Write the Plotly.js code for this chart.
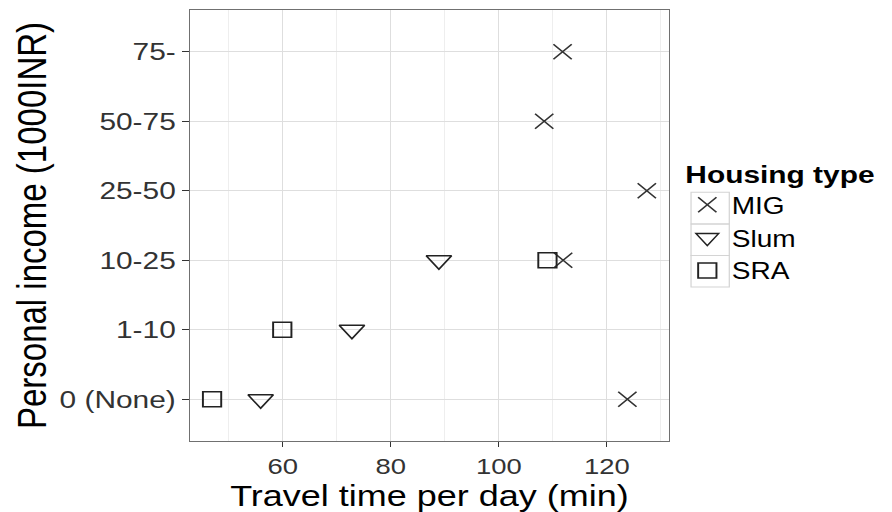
<!DOCTYPE html>
<html>
<head>
<meta charset="utf-8">
<script src="https://cdn.plot.ly/plotly-3.0.1.min.js"></script>
<style>
  html, body { margin: 0; padding: 0; background: #fff; overflow: hidden; }
  #wrap { width: 892px; height: 512px; overflow: hidden; }
  #chart { width: 731px; height: 512px; transform: scaleX(1.22); transform-origin: 0 0; }
</style>
</head>
<body>
<div id="wrap"><div id="chart"></div></div>
<script>
// Income categories (y axis, bottom to top)
const incomeCategories = ["0 (None)", "1-10", "10-25", "25-50", "50-75", "75-"];

// MIG
const migIncome = ["0 (None)", "10-25", "25-50", "50-75", "75-"];
const migTravel = [123.8, 111.9, 127.4, 108.4, 111.8];

// Slum
const slumIncome = ["0 (None)", "1-10", "10-25"];
const slumTravel = [55.9, 72.8, 88.9];

// SRA
const sraIncome = ["0 (None)", "1-10", "10-25"];
const sraTravel = [46.9, 59.9, 109.0];

const xTicks = [60, 80, 100, 120];
const xMinorTicks = [50, 70, 90, 110, 130];

const FONT = "Liberation Sans, Arial, sans-serif";
const ink = "#222222";

const traces = [
  {
    name: "MIG", legendgroup: "a", x: migTravel, y: migIncome, type: "scatter", mode: "markers",
    marker: { symbol: "x-thin-open", size: 15, color: "#333333", line: { color: "#333333", width: 1.4 } }
  },
  {
    name: "Slum", legendgroup: "b", x: slumTravel, y: slumIncome, type: "scatter", mode: "markers",
    marker: { symbol: "triangle-down-open", size: 18, color: ink, line: { color: ink, width: 1.4 } }
  },
  {
    name: "SRA", legendgroup: "c", x: sraTravel, y: sraIncome, type: "scatter", mode: "markers",
    marker: { symbol: "square-open", size: 15, color: ink, line: { color: ink, width: 1.6 } }
  }
];

const allX = migTravel.concat(slumTravel, sraTravel);
const xmin = Math.min(...allX), xmax = Math.max(...allX);
const pad = (xmax - xmin) * 0.05;

// light grey frames around the legend keys (ggplot legend.key style)
const keyTop = 0.577, keyStep = 0.0733;
const keyFrames = [0, 1, 2].map(i => ({
  type: "rect", xref: "paper", yref: "paper", layer: "above",
  x0: 1.047, x1: 1.127,
  y0: keyTop - i * keyStep, y1: keyTop - (i + 1) * keyStep,
  line: { color: "#d4d4d4", width: 1 }, fillcolor: "rgba(0,0,0,0)"
}));

const layout = {
  width: 731, height: 512,
  margin: { l: 156, r: 183, t: 10, b: 71, pad: 0 },
  paper_bgcolor: "#ffffff", plot_bgcolor: "#ffffff",
  font: { family: FONT, color: "#333333" },
  showlegend: true,
  shapes: keyFrames,
  xaxis: {
    range: [xmin - pad, xmax + pad],
    tickvals: xTicks,
    ticks: "outside", ticklen: 5, tickcolor: "#333333", tickwidth: 1,
    tickfont: { family: FONT, size: 22.5, color: "#333333" },
    showgrid: true, gridcolor: "#dedede", gridwidth: 1,
    minor: { tickmode: "array", tickvals: xMinorTicks, showgrid: true, gridcolor: "#eeeeee", gridwidth: 1, ticks: "" },
    zeroline: false,
    showline: true, linecolor: "#707070", linewidth: 1, mirror: true,
    title: { text: "Travel time per day (min)", font: { family: FONT, size: 29.5, color: "#000000" }, standoff: 8 }
  },
  yaxis: {
    type: "category",
    categoryorder: "array", categoryarray: incomeCategories,
    range: [-0.6, incomeCategories.length - 0.4],
    ticks: "outside", ticklen: 6, tickcolor: "#333333", tickwidth: 1,
    tickfont: { family: FONT, size: 24.5, color: "#333333" },
    showgrid: true, gridcolor: "#dedede", gridwidth: 1,
    zeroline: false,
    showline: true, linecolor: "#707070", linewidth: 1, mirror: true,
    title: { text: "Personal income (1000INR)", font: { family: FONT, size: 33, color: "#000000" }, standoff: 0 }
  },
  legend: {
    x: 1.03, xanchor: "left", y: 0.672, yanchor: "top",
    title: { text: "<b>Housing type</b>", font: { family: FONT, size: 24.5, color: "#000000" } },
    font: { family: FONT, size: 23, color: "#000000" },
    bgcolor: "rgba(0,0,0,0)", tracegroupgap: 0, itemwidth: 30
  }
};

Plotly.newPlot("chart", traces, layout, { displayModeBar: false, staticPlot: true });
</script>
</body>
</html>
